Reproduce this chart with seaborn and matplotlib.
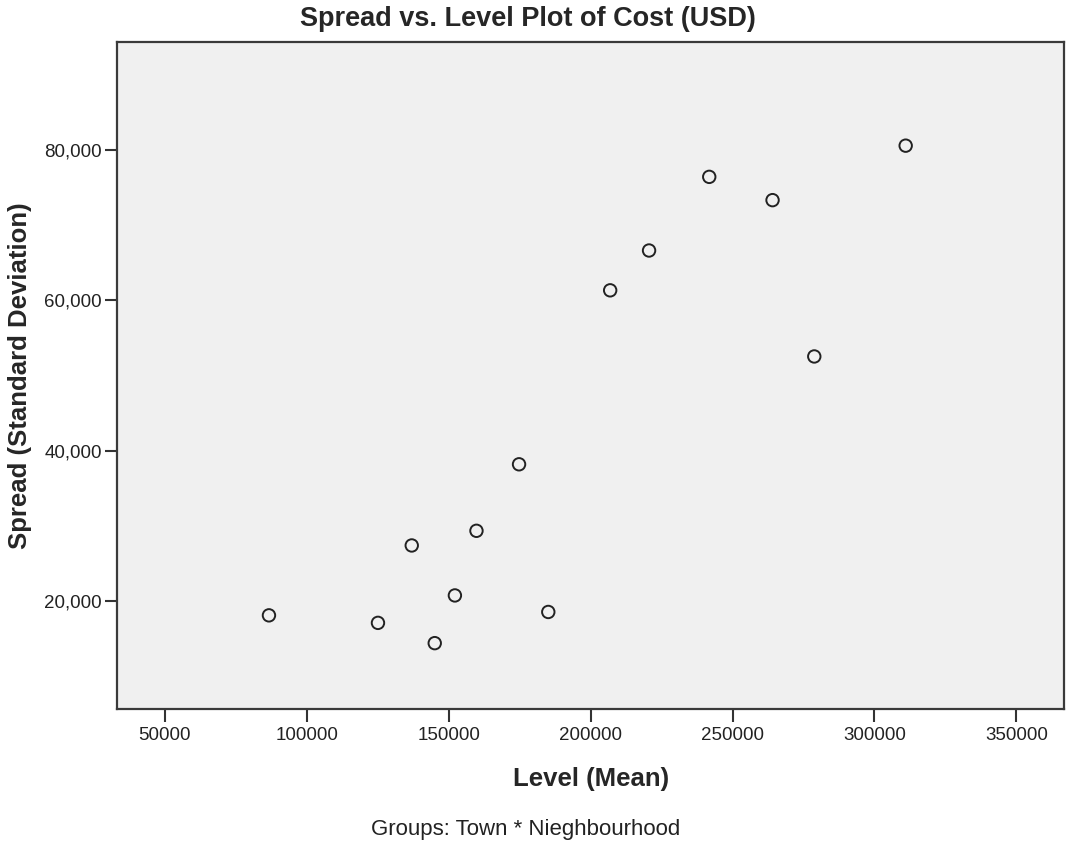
import pandas as pd
import matplotlib.pyplot as plt
import matplotlib.ticker as mticker
import seaborn as sns

# Spread vs. level values per group (Town * Neighbourhood)
level_mean = [86700, 125100, 137000, 145100, 152200, 159800, 174800,
              185100, 206900, 220600, 241800, 264100, 278800, 311000]
spread_sd = [18100, 17100, 27400, 14400, 20750, 29350, 38200,
             18550, 61350, 66650, 76450, 73350, 52550, 80600]

x_ticks = [50000, 100000, 150000, 200000, 250000, 300000, 350000]
y_ticks = [20000, 40000, 60000, 80000]

df = pd.DataFrame({'level': level_mean, 'spread': spread_sd})

sns.set_style('ticks', {'axes.facecolor': '#F0F0F0'})
plt.rcParams['font.family'] = ['Liberation Sans', 'DejaVu Sans']

fig = plt.figure(figsize=(10.67, 8.46), dpi=100)
ax = fig.add_axes([0.110, 0.1616, 0.887, 0.7888])

sns.scatterplot(data=df, x='level', y='spread', ax=ax, s=80,
                facecolor='none', edgecolor='#222222', linewidth=1.4,
                marker='o', legend=False)

ax.set_xlim(33300, 366700)
ax.set_ylim(5600, 94400)
ax.set_xticks(x_ticks)
ax.set_yticks(y_ticks)
ax.xaxis.set_major_formatter(mticker.FuncFormatter(lambda v, p: f'{int(v)}'))
ax.yaxis.set_major_formatter(mticker.FuncFormatter(lambda v, p: f'{int(v):,}'))
ax.tick_params(axis='both', direction='out', length=9, width=1.5,
               color='#333333', labelsize=13.5, labelcolor='#222222')
ax.tick_params(axis='x', pad=4)
ax.tick_params(axis='y', pad=2)

for side in ['left', 'bottom', 'top', 'right']:
    ax.spines[side].set_visible(True)
    ax.spines[side].set_color('#3a3a3a')
    ax.spines[side].set_linewidth(1.6)

ax.set_xlabel('Level (Mean)', fontsize=18.5, fontweight='bold', labelpad=16)
ax.set_ylabel('Spread (Standard Deviation)', fontsize=18.5, fontweight='bold', labelpad=9)
fig.text(0.495, 0.977, 'Spread vs. Level Plot of Cost (USD)', ha='center', va='center',
         fontsize=19.5, fontweight='bold')
fig.text(0.493, 0.019, 'Groups: Town * Nieghbourhood', ha='center', va='center',
         fontsize=16, color='#222222')

plt.savefig('out.png', dpi=100)
